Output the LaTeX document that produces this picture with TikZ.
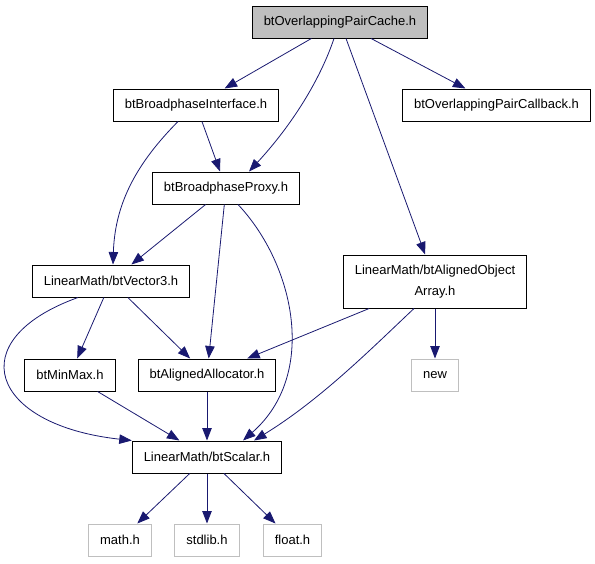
\documentclass[tikz,border=0pt]{standalone}
\usepackage{fontspec}
\setmainfont{Liberation Sans}
\usepackage{tikz}
\usetikzlibrary{arrows.meta}
\definecolor{edgeblue}{RGB}{25,25,112}
\definecolor{boxgray}{RGB}{191,191,191}
\tikzset{
    file/.style={draw=black, line width=1pt, inner xsep=11.5pt, inner ysep=2pt,
        minimum height=32pt, align=center, font=\fontsize{13}{21}\selectfont},
    sysfile/.style={file, draw=boxgray},
    dep/.style={draw=edgeblue, line width=0.8pt, -{Triangle[length=12.5pt,width=9.5pt]}}
}

\begin{document}
\begin{tikzpicture}[x=1pt, y=-1pt]
    \useasboundingbox (0, 0) rectangle (595, 563);

    \node[file, fill=boxgray] (cache) at (340, 22) {btOverlappingPairCache.h};
    \node[file] (iface) at (196, 105) {btBroadphaseInterface.h};
    \node[file] (callback) at (496.5, 105) {btOverlappingPairCallback.h};
    \node[file] (proxy) at (226, 188) {btBroadphaseProxy.h};
    \node[file] (vector) at (111, 281) {LinearMath/btVector3.h};
    \node[file, minimum height=53pt] (objarray) at (435, 281.5) {LinearMath/btAlignedObject\\Array.h};
    \node[file] (minmax) at (70, 375) {btMinMax.h};
    \node[file] (allocator) at (207, 375) {btAlignedAllocator.h};
    \node[sysfile] (new) at (435, 375) {new};
    \node[file] (scalar) at (207, 457) {LinearMath/btScalar.h};
    \node[sysfile] (math) at (120, 540) {math.h};
    \node[sysfile] (stdlib) at (207, 540) {stdlib.h};
    \node[sysfile] (float) at (292.5, 540) {float.h};

    % from the top file
    \draw[dep] (cache) -- (iface);
    \draw[dep] ([xshift=-6pt]cache.south) .. controls (320, 80) and (292, 125) .. ([xshift=23pt]proxy.north);
    \draw[dep] (cache) -- (objarray);
    \draw[dep] (cache) -- (callback);

    \draw[dep] (iface) -- (proxy);
    \draw[dep] ([xshift=-18pt]iface.south) .. controls (140, 160) and (115, 200) .. ([xshift=2pt]vector.north);

    \draw[dep] (proxy) -- (vector);
    \draw[dep] (proxy) -- (allocator);
    \draw[dep] ([xshift=12pt]proxy.south) .. controls (295, 265) and (318, 375) .. ([xshift=36pt]scalar.north);

    \draw[dep] (vector) -- (minmax);
    \draw[dep] (vector) -- (allocator);
    \draw[dep] ([xshift=-33pt]vector.south) .. controls (-40, 340) and (-10, 425) .. (scalar.north west);

    \draw[dep] (objarray) -- (allocator);
    \draw[dep] (objarray) -- (new);
    \draw[dep] ([xshift=-21pt]objarray.south) .. controls (370, 350) and (320, 400) .. ([xshift=47pt]scalar.north);

    \draw[dep] (minmax) -- (scalar);
    \draw[dep] (allocator) -- (scalar);

    % system headers
    \draw[dep] (scalar) -- (math);
    \draw[dep] (scalar) -- (stdlib);
    \draw[dep] (scalar) -- (float);
\end{tikzpicture}
\end{document}
